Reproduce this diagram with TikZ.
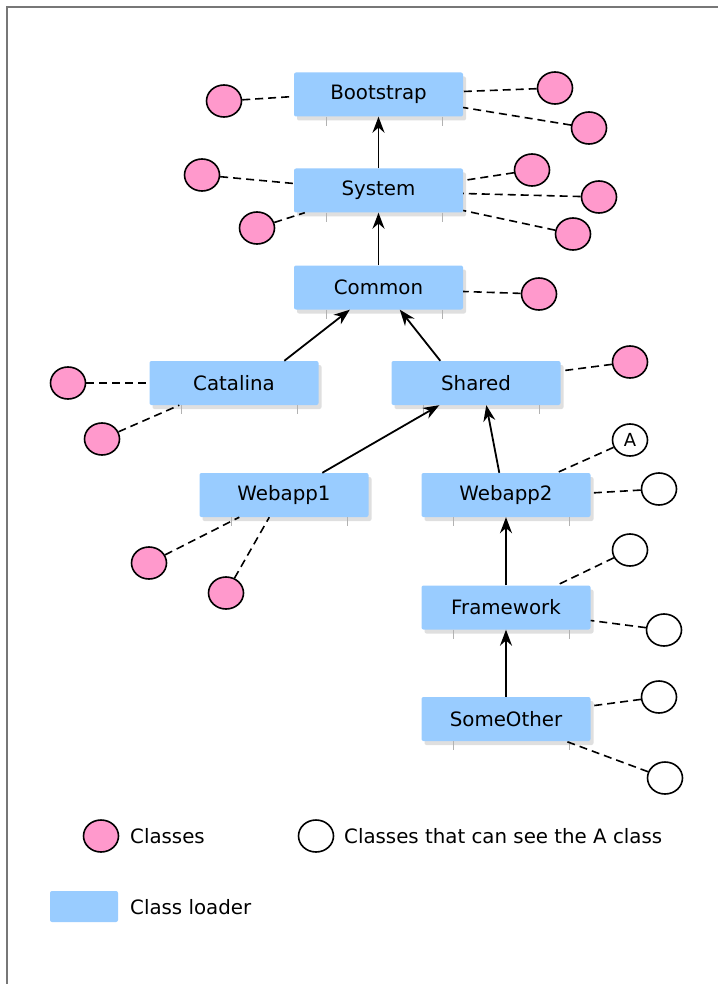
\documentclass[tikz,border=0pt]{standalone}
\usepackage{fontspec}
\setmainfont{DejaVu Sans}
\usetikzlibrary{arrows.meta,shadows,shapes.geometric,calc}
\definecolor{loaderblue}{HTML}{99CCFF}
\definecolor{classpink}{HTML}{FF99CC}
\definecolor{framegray}{HTML}{777777}
\begin{document}
\begin{tikzpicture}[x=1pt,y=-1pt,
  loader/.style={fill=loaderblue, minimum width=169pt, minimum height=44pt, rounded corners=2pt,
    font=\fontsize{19.8}{23}\selectfont, inner sep=0pt,
    drop shadow={shadow xshift=3pt,shadow yshift=-4pt,opacity=0.25}},
  cls/.style={ellipse, draw, line width=1.6pt, fill=classpink, minimum width=35pt, minimum height=32pt, inner sep=0pt},
  vis/.style={cls, fill=white, font=\fontsize{18}{21}\selectfont},
  dep/.style={dash pattern=on 8pt off 5pt, line width=1.6pt},
  parent/.style={-{Stealth[length=16pt,width=12pt]}, line width=1.8pt},
  tick/.style={draw=black!30, line width=0.6pt},
  lbl/.style={anchor=west, inner sep=0pt, font=\fontsize{19.8}{23}\selectfont}
]
\useasboundingbox (0,0) rectangle (718,984);
\fill[white] (0,0) rectangle (718,984);
\draw[framegray, line width=2pt] (7,984) -- (7,7) -- (718,7);

% class loaders
\node[loader] (boot) at (378.5,94.5) {Bootstrap};
\node[loader] (sys) at (378.5,190.5) {System};
\node[loader] (com) at (378.5,287.5) {Common};
\node[loader] (cat) at (234,383) {Catalina};
\node[loader] (sh) at (476,383) {Shared};
\node[loader] (wa1) at (284,495) {Webapp1};
\node[loader] (wa2) at (506,495) {Webapp2};
\node[loader] (fw) at (506,607.5) {Framework};
\node[loader] (so) at (506,719) {SomeOther};

% ticks under loaders
\foreach \b in {boot,sys,com,cat,sh,wa1,wa2,fw,so}{
  \draw[tick] ($(\b.south west)+(32,0)$) -- ++(0,9);
  \draw[tick] ($(\b.south east)+(-21,0)$) -- ++(0,9);
}

% parent arrows
\draw[parent] (sys.north) -- (boot.south);
\draw[parent] (com.north) -- (sys.south);
\draw[parent] ($(cat.north west)+(135,0)$) -- ($(com.south west)+(56,0)$);
\draw[parent] ($(sh.north west)+(49,0)$) -- ($(com.south west)+(106,0)$);
\draw[parent] ($(wa1.north west)+(123,0)$) -- ($(sh.south west)+(48,0)$);
\draw[parent] ($(wa2.north west)+(78,0)$) -- ($(sh.south west)+(95,0)$);
\draw[parent] (fw.north) -- (wa2.south);
\draw[parent] (so.north) -- (fw.south);

% classes
\node[cls] (b1) at (224,101) {};
\node[cls] (b2) at (555,88) {};
\node[cls] (b3) at (589,128) {};
\node[cls] (s1) at (202,175) {};
\node[cls] (s2) at (257,228) {};
\node[cls] (s3) at (532,170) {};
\node[cls] (s4) at (599,197) {};
\node[cls] (s5) at (573,234) {};
\node[cls] (c1) at (539,294) {};
\node[cls] (ca1) at (68,383) {};
\node[cls] (ca2) at (102,439) {};
\node[cls] (sh1) at (630,362) {};
\node[cls] (w11) at (149,563) {};
\node[cls] (w12) at (226,593) {};
\node[vis] (wA) at (630,440) {A};
\node[vis] (w22) at (659,489) {};
\node[vis] (f1) at (630,550) {};
\node[vis] (f2) at (664,630) {};
\node[vis] (o1) at (659,697) {};
\node[vis] (o2) at (665,778) {};

% class connectors
\draw[dep] (b1) -- ($(boot.west)+(0,2)$);
\draw[dep] (b2) -- ($(boot.east)+(0,-3)$);
\draw[dep] (b3) -- ($(boot.east)+(0,13)$);
\draw[dep] (s1) -- ($(sys.west)+(0,-7)$);
\draw[dep] (s2) -- ($(sys.south west)+(11,0)$);
\draw[dep] (s3) -- ($(sys.east)+(0,-10)$);
\draw[dep] (s4) -- ($(sys.east)+(0,3)$);
\draw[dep] (s5) -- ($(sys.east)+(0,20)$);
\draw[dep] (c1) -- ($(com.east)+(0,4)$);
\draw[dep] (ca1) -- (cat.west);
\draw[dep] (ca2) -- ($(cat.south west)+(30,0)$);
\draw[dep] (sh1) -- ($(sh.east)+(0,-12)$);
\draw[dep] (w11) -- ($(wa1.south west)+(40,0)$);
\draw[dep] (w12) -- ($(wa1.south west)+(70,0)$);
\draw[dep] (wA) -- ($(wa2.north east)+(-34,0)$);
\draw[dep] (w22) -- ($(wa2.east)+(0,-2)$);
\draw[dep] (f1) -- ($(fw.north east)+(-34,0)$);
\draw[dep] (f2) -- ($(fw.east)+(0,13)$);
\draw[dep] (o1) -- ($(so.east)+(0,-13)$);
\draw[dep] (o2) -- ($(so.south east)+(-25,0)$);

% legend
\node[cls] (lgc) at (101,836) {};
\node[lbl] (lgct) at (130,836) {Classes};
\node[vis] (lgv) at (316,836) {};
\node[lbl] (lgvt) at (344,836) {Classes that can see the A class};
\node[fill=loaderblue, rounded corners=2pt, minimum width=68pt, minimum height=31pt, inner sep=0pt] (lgl) at (84,906.5) {};
\node[lbl] (lglt) at (130,907) {Class loader};
\end{tikzpicture}
\end{document}
